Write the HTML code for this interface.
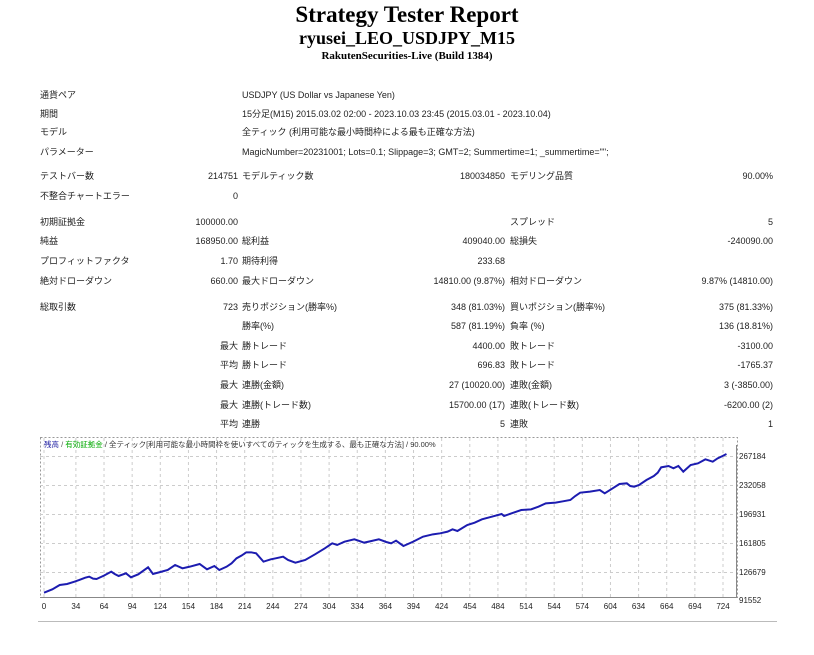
<!DOCTYPE html>
<html><head><meta charset="utf-8">
<style>
body{margin:0;width:814px;height:655px;background:#fff;position:relative;overflow:hidden;font-family:"Liberation Sans","Noto Sans CJK JP",sans-serif;color:#222}
.t{position:absolute;font-size:9px;line-height:11px;white-space:nowrap}
.r{text-align:right}
.h{position:absolute;left:0;width:814px;text-align:center;font-family:"Liberation Serif",serif;font-weight:bold;color:#000;white-space:nowrap}
</style></head><body>
<div class="h" style="top:2px;font-size:23px">Strategy Tester Report</div>
<div class="h" style="top:28px;font-size:18px">ryusei_LEO_USDJPY_M15</div>
<div class="h" style="top:50px;font-size:11px">RakutenSecurities-Live (Build 1384)</div>

<div class="t" style="left:40px;top:90px">通貨ペア</div>
<div class="t" style="left:242px;top:90px">USDJPY (US Dollar vs Japanese Yen)</div>
<div class="t" style="left:40px;top:109px">期間</div>
<div class="t" style="left:242px;top:109px">15分足(M15) 2015.03.02 02:00 - 2023.10.03 23:45 (2015.03.01 - 2023.10.04)</div>
<div class="t" style="left:40px;top:127px">モデル</div>
<div class="t" style="left:242px;top:127px">全ティック (利用可能な最小時間枠による最も正確な方法)</div>
<div class="t" style="left:40px;top:147px">パラメーター</div>
<div class="t" style="left:242px;top:147px">MagicNumber=20231001; Lots=0.1; Slippage=3; GMT=2; Summertime=1; _summertime="";</div>

<div class="t" style="left:40px;top:171px">テストバー数</div>
<div class="t r" style="left:140px;width:98px;top:171px">214751</div>
<div class="t" style="left:242px;top:171px">モデルティック数</div>
<div class="t r" style="left:400px;width:105px;top:171px">180034850</div>
<div class="t" style="left:510px;top:171px">モデリング品質</div>
<div class="t r" style="left:650px;width:123px;top:171px">90.00%</div>

<div class="t" style="left:40px;top:191px">不整合チャートエラー</div>
<div class="t r" style="left:140px;width:98px;top:191px">0</div>

<div class="t" style="left:40px;top:217px">初期証拠金</div>
<div class="t r" style="left:140px;width:98px;top:217px">100000.00</div>
<div class="t" style="left:510px;top:217px">スプレッド</div>
<div class="t r" style="left:650px;width:123px;top:217px">5</div>

<div class="t" style="left:40px;top:236px">純益</div>
<div class="t r" style="left:140px;width:98px;top:236px">168950.00</div>
<div class="t" style="left:242px;top:236px">総利益</div>
<div class="t r" style="left:400px;width:105px;top:236px">409040.00</div>
<div class="t" style="left:510px;top:236px">総損失</div>
<div class="t r" style="left:650px;width:123px;top:236px">-240090.00</div>

<div class="t" style="left:40px;top:256px">プロフィットファクタ</div>
<div class="t r" style="left:140px;width:98px;top:256px">1.70</div>
<div class="t" style="left:242px;top:256px">期待利得</div>
<div class="t r" style="left:400px;width:105px;top:256px">233.68</div>

<div class="t" style="left:40px;top:276px">絶対ドローダウン</div>
<div class="t r" style="left:140px;width:98px;top:276px">660.00</div>
<div class="t" style="left:242px;top:276px">最大ドローダウン</div>
<div class="t r" style="left:380px;width:125px;top:276px">14810.00 (9.87%)</div>
<div class="t" style="left:510px;top:276px">相対ドローダウン</div>
<div class="t r" style="left:650px;width:123px;top:276px">9.87% (14810.00)</div>

<div class="t" style="left:40px;top:302px">総取引数</div>
<div class="t r" style="left:140px;width:98px;top:302px">723</div>
<div class="t" style="left:242px;top:302px">売りポジション(勝率%)</div>
<div class="t r" style="left:380px;width:125px;top:302px">348 (81.03%)</div>
<div class="t" style="left:510px;top:302px">買いポジション(勝率%)</div>
<div class="t r" style="left:650px;width:123px;top:302px">375 (81.33%)</div>

<div class="t" style="left:242px;top:321px">勝率(%)</div>
<div class="t r" style="left:380px;width:125px;top:321px">587 (81.19%)</div>
<div class="t" style="left:510px;top:321px">負率 (%)</div>
<div class="t r" style="left:650px;width:123px;top:321px">136 (18.81%)</div>

<div class="t r" style="left:140px;width:98px;top:341px">最大</div>
<div class="t" style="left:242px;top:341px">勝トレード</div>
<div class="t r" style="left:380px;width:125px;top:341px">4400.00</div>
<div class="t" style="left:510px;top:341px">敗トレード</div>
<div class="t r" style="left:650px;width:123px;top:341px">-3100.00</div>

<div class="t r" style="left:140px;width:98px;top:360px">平均</div>
<div class="t" style="left:242px;top:360px">勝トレード</div>
<div class="t r" style="left:380px;width:125px;top:360px">696.83</div>
<div class="t" style="left:510px;top:360px">敗トレード</div>
<div class="t r" style="left:650px;width:123px;top:360px">-1765.37</div>

<div class="t r" style="left:140px;width:98px;top:380px">最大</div>
<div class="t" style="left:242px;top:380px">連勝(金額)</div>
<div class="t r" style="left:380px;width:125px;top:380px">27 (10020.00)</div>
<div class="t" style="left:510px;top:380px">連敗(金額)</div>
<div class="t r" style="left:650px;width:123px;top:380px">3 (-3850.00)</div>

<div class="t r" style="left:140px;width:98px;top:400px">最大</div>
<div class="t" style="left:242px;top:400px">連勝(トレード数)</div>
<div class="t r" style="left:380px;width:125px;top:400px">15700.00 (17)</div>
<div class="t" style="left:510px;top:400px">連敗(トレード数)</div>
<div class="t r" style="left:650px;width:123px;top:400px">-6200.00 (2)</div>

<div class="t r" style="left:140px;width:98px;top:419px">平均</div>
<div class="t" style="left:242px;top:419px">連勝</div>
<div class="t r" style="left:380px;width:125px;top:419px">5</div>
<div class="t" style="left:510px;top:419px">連敗</div>
<div class="t r" style="left:650px;width:123px;top:419px">1</div>

<svg width="814" height="655" style="position:absolute;left:0;top:0" xmlns="http://www.w3.org/2000/svg">
<rect x="40.5" y="437.5" width="697" height="160" fill="#fff" stroke="#999" stroke-dasharray="2,2"/>
<g stroke="#ccc" stroke-dasharray="3,3" stroke-width="1">
<line x1="40" y1="456.5" x2="737" y2="456.5"/><line x1="40" y1="485.5" x2="737" y2="485.5"/>
<line x1="40" y1="514.5" x2="737" y2="514.5"/><line x1="40" y1="543.5" x2="737" y2="543.5"/>
<line x1="40" y1="572.5" x2="737" y2="572.5"/>
</g>
<g id="vg" stroke="#ccc" stroke-dasharray="3,3"></g>
<line x1="40" y1="597.5" x2="737" y2="597.5" stroke="#888"/>
<line x1="736.5" y1="445" x2="736.5" y2="598" stroke="#888"/>
<g transform="translate(30.25,430) scale(0.491,0.3333)">
<polyline fill="none" stroke="#1c1cb0" stroke-width="2" vector-effect="non-scaling-stroke" points="28,488 45,478 60,465 75,462 90,455 100,450 112,443 120,440 128,446 135,447 150,437 165,425 172,432 180,438 195,430 205,442 220,433 240,412 250,432 265,426 280,420 295,405 310,415 325,410 345,402 360,418 375,408 385,420 400,410 410,400 420,385 430,377 440,367 450,367 460,370 475,395 490,388 500,385 515,380 525,390 540,398 560,390 580,373 600,355 615,340 625,345 640,335 660,328 670,333 680,338 695,333 710,328 725,336 735,340 745,332 760,348 780,335 800,320 820,313 835,310 850,305 860,298 870,303 890,285 905,278 920,268 940,260 960,252 965,258 990,245 1000,240 1020,238 1035,230 1050,220 1070,218 1085,214 1100,210 1110,198 1120,188 1140,185 1160,180 1170,190 1185,176 1200,162 1215,160 1222,168 1230,170 1240,165 1255,150 1270,138 1278,128 1285,112 1300,108 1310,115 1320,108 1330,125 1345,105 1360,100 1375,88 1390,95 1400,85 1410,78 1418,72"/>
</g>
<g font-family="Liberation Sans, sans-serif" font-size="8" fill="#222" id="lab">
<text x="739" y="459">267184</text><text x="739" y="488">232058</text><text x="739" y="517">196931</text>
<text x="739" y="546">161805</text><text x="739" y="575">126679</text><text x="739" y="603">91552</text>
</g>
<g font-family="Liberation Sans, sans-serif" font-size="8" fill="#222" text-anchor="middle" id="xl"></g>
<text x="44" y="447" font-family="Liberation Sans, Noto Sans CJK JP, sans-serif" font-size="7.5"><tspan fill="#1a1aa0">残高</tspan><tspan fill="#555"> / </tspan><tspan fill="#0a0">有効証拠金</tspan><tspan fill="#333"> / 全ティック[利用可能な最小時間枠を使いすべてのティックを生成する、最も正確な方法] / 90.00%</tspan></text>
<line x1="38" y1="621.5" x2="777" y2="621.5" stroke="#bbb"/>
</svg>
<script>
var vg=document.getElementById('vg'),xl=document.getElementById('xl'),ns='http://www.w3.org/2000/svg';
for(var k=0;k<=24;k++){var v=k==0?0:4+30*k;var x=44+v*679/724;
var l=document.createElementNS(ns,'line');l.setAttribute('x1',x);l.setAttribute('x2',x);l.setAttribute('y1',438);l.setAttribute('y2',597);vg.appendChild(l);
var t=document.createElementNS(ns,'text');t.setAttribute('x',x);t.setAttribute('y',609);t.textContent=v;xl.appendChild(t);}
</script>
</body></html>
